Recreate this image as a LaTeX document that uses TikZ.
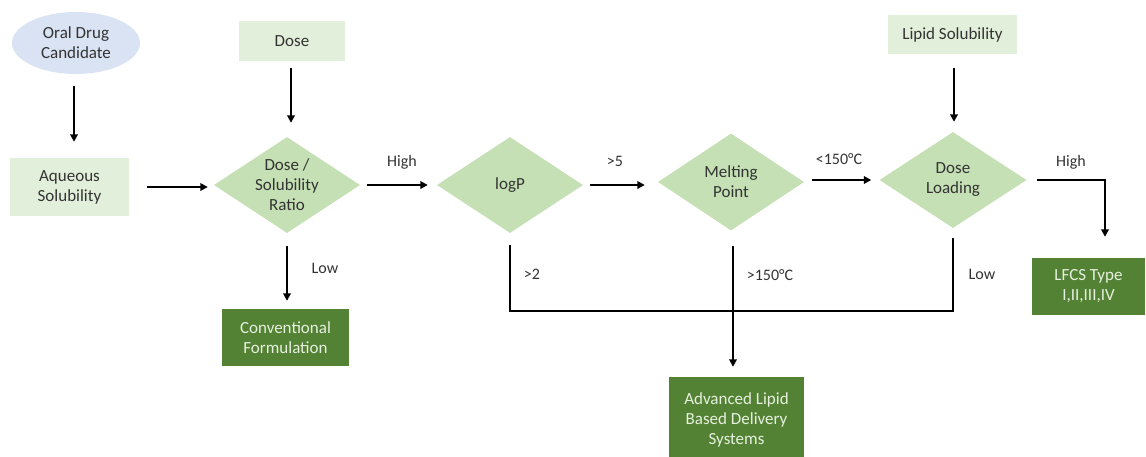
\documentclass[tikz,border=0pt]{standalone}
\usepackage{fontspec}
\setmainfont{Carlito}
\usetikzlibrary{shapes.geometric,arrows.meta,calc}

\definecolor{txtgray}{HTML}{333333}
\definecolor{palegreen}{HTML}{E2EFDA}
\definecolor{midgreen}{HTML}{C5E0B4}
\definecolor{darkgreen}{HTML}{548235}
\definecolor{paleblue}{HTML}{DAE3F3}
\definecolor{lighttxt}{HTML}{E6F0DE}

\tikzset{
  every node/.style={font=\fontsize{17}{20}\selectfont, text=txtgray, align=center},
  inputbox/.style={rectangle, fill=palegreen, inner sep=0pt},
  decision/.style={diamond, fill=midgreen, inner sep=0pt, aspect=1.52},
  outcome/.style={rectangle, fill=darkgreen, inner sep=0pt, text=lighttxt},
  startnode/.style={ellipse, fill=paleblue, inner sep=0pt},
  flow/.style={line width=2.6pt, -{Triangle[width=7.5pt,length=7.5pt]}},
  plain/.style={line width=2.6pt},
  edgelabel/.style={font=\fontsize{16}{19}\selectfont}
}

\begin{document}
\begin{tikzpicture}[x=1pt,y=-1pt]
  \useasboundingbox (0,0) rectangle (1146,456);

  % start and input nodes
  \node[startnode, minimum width=128pt, minimum height=62pt] (oral) at (76,43) {Oral Drug\\Candidate};
  \node[inputbox, minimum width=119pt, minimum height=58pt] (aq) at (69.5,187) {Aqueous\\Solubility};
  \node[inputbox, minimum width=106pt, minimum height=40pt] (dose) at (292,41) {Dose};
  \node[inputbox, minimum width=129pt, minimum height=39pt] (lipid) at (952.5,34.5) {Lipid Solubility};

  % decision diamonds (text set as centred labels so the shape size stays fixed)
  \node[decision, minimum width=146pt, minimum height=96pt,
        label={[align=center]center:Dose /\\Solubility\\Ratio}] (ratio) at (287,185) {};
  \node[decision, minimum width=146pt, minimum height=96pt,
        label={center:logP}] (logp) at (510,185) {};
  \node[decision, minimum width=146pt, minimum height=97pt,
        label={[align=center]center:Melting\\Point}] (mp) at (731,182) {};
  \node[decision, minimum width=147pt, minimum height=96pt,
        label={[align=center]center:Dose\\Loading}] (dl) at (953,180) {};

  % outcomes
  \node[outcome, minimum width=127pt, minimum height=57pt] (conv) at (285.5,337.5) {Conventional\\Formulation};
  \node[outcome, minimum width=135pt, minimum height=83pt, text depth=0pt] (adv) at (736.5,418.5) {Advanced Lipid\\Based Delivery\\Systems};
  \node[outcome, minimum width=113pt, minimum height=57pt] (lfcs) at (1088.5,286.5) {LFCS Type\\I,II,III,IV};

  % main flow
  \draw[flow, shorten <=12pt, shorten >=16pt] (oral.south -| 74,0) -- (aq.north -| 74,0);
  \draw[flow, shorten <=18pt, shorten >=6pt] (aq.east) -- (aq.east -| ratio.west);
  \draw[flow, shorten <=7pt, shorten >=14pt] ([xshift=4pt]dose.south -| ratio.north) -- ([xshift=4pt]ratio.north);
  \draw[flow, shorten <=7pt, shorten >=9pt] (ratio.east) -- (logp.west);
  \node[edgelabel] (lblhigh1) at (402,162) {High};
  \draw[flow, shorten <=7pt, shorten >=13pt] (logp.east) -- (logp.east -| mp.west);
  \node[edgelabel] (lbl5) at (615,161) {>5};
  \draw[flow, shorten <=8pt, shorten >=8pt] (mp.east |- dl.west) -- (dl.west);
  \node[edgelabel] (lbllt) at (839,159) {<150°C};
  \draw[flow, shorten <=14pt, shorten >=10pt] ([xshift=1.5pt]lipid.south) -- ([xshift=1pt]dl.north);

  % high dose loading -> LFCS
  \coordinate (hcorner) at (1105,180);
  \draw[flow, shorten >=21pt] ([xshift=10pt]dl.east) -- (hcorner) -- (hcorner |- lfcs.north);
  \node[edgelabel] (lblhigh2) at (1071,162) {High};

  % low dose/solubility ratio -> conventional
  \draw[flow, shorten >=8pt] ([yshift=-13pt]ratio.south) -- (ratio.south |- conv.north);
  \node[edgelabel] (lbllow1) at (325,268) {Low};

  % collecting line from logP and dose loading
  \coordinate (join) at (733,311);
  \draw[plain] ([yshift=-12pt]logp.south) -- (logp.south |- join) -- (dl.south |- join) -- ([yshift=-10pt]dl.south);
  \node[edgelabel] (lbl2) at (532,274) {>2};
  \node[edgelabel] (lbllow2) at (982,274) {Low};

  % melting point -> advanced systems
  \draw[flow, shorten >=10pt] ([yshift=-15pt]mp.south -| join) -- (join |- adv.north);
  \node[edgelabel] (lblgt) at (770,275) {>150°C};
\end{tikzpicture}
\end{document}
